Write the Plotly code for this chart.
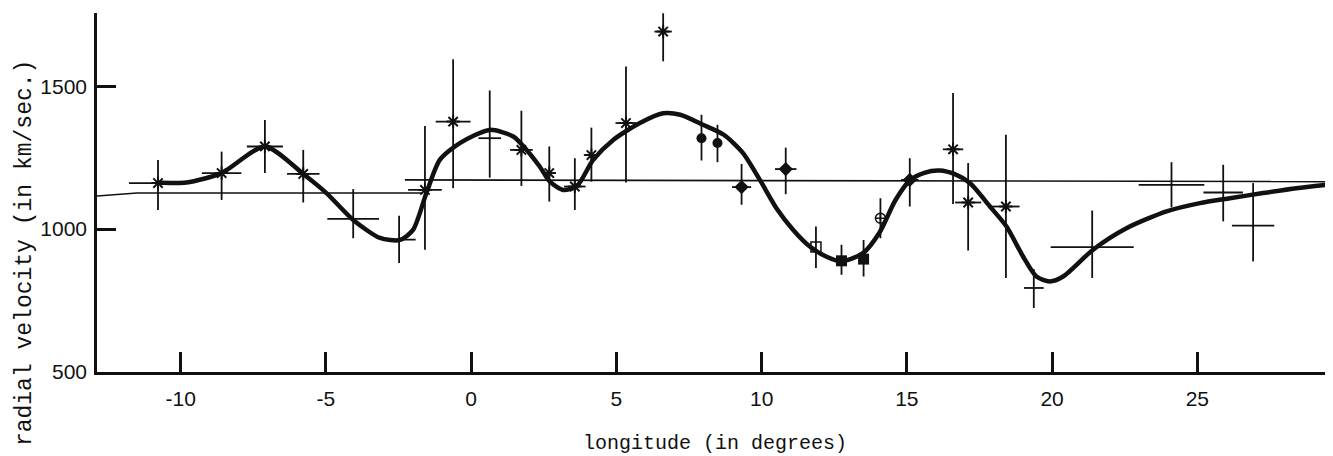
import plotly.graph_objects as go

# ---------------- data ----------------
# smooth fitted curve (traced)
curve_x = [-10.82, -9.8, -8.59, -7.10, -5.78, -4.98, -4.06, -3.14, -2.45, -2.0, -1.54, -1.08,
           -0.39, 0.64, 1.45, 1.91, 2.36, 2.71, 3.17, 3.63, 4.20, 4.89, 5.81, 6.61, 7.2, 7.98,
           8.7, 9.36, 9.94, 10.51, 11.08, 11.66, 12.2, 12.75, 13.49, 14.07, 14.6, 15.10, 15.6,
           16.13, 16.65, 17.17, 17.86, 18.43, 19.0, 19.46, 19.92, 20.38, 21.41, 22.56, 23.94,
           25.09, 26.12, 27.26, 28.41, 29.45]
curve_y = [1163, 1163, 1196, 1289, 1193, 1126, 1032, 969, 962, 997, 1126, 1242,
           1301, 1347, 1324, 1277, 1219, 1166, 1137, 1149, 1242, 1312, 1371, 1405, 1400, 1365,
           1330, 1266, 1172, 1073, 998, 939, 905, 887, 916, 990, 1100, 1170, 1197,
           1205, 1192, 1161, 1079, 1009, 904, 834, 817, 834, 928, 1003, 1062,
           1091, 1108, 1126, 1143, 1155]

# thin reference lines
ref1_x = [-12.88, -11.5, -1.65]
ref1_y = [1116, 1126, 1126]
ref2_x = [-2.28, 29.7]
ref2_y = [1172, 1166]

# points marked with asterisks
star_x = [-10.78, -8.59, -7.10, -5.78, -1.59, -0.62, 1.73, 2.69, 3.57, 4.14, 5.33, 6.61, 16.59, 17.11, 18.41]
star_y = [1161, 1196, 1289, 1193, 1137, 1376, 1277, 1196, 1149, 1259, 1371, 1691, 1279, 1093, 1079]
star_up = [81, 75, 93, 84, 224, 218, 137, 93, 99, 96, 198, 64, 197, 138, 251]
star_dn = [94, 94, 93, 100, 209, 233, 126, 100, 82, 93, 208, 104, 191, 168, 250]
star_ex = [1.0, 0.68, 0.62, 0.56, 0.58, 0.6, 0.39, 0.22, 0.37, 0.26, 0.36, 0.3, 0.35, 0.45, 0.47]

# plain crosses
cross_x = [-4.06, -2.48, 0.64, 19.37, 21.38, 24.11, 25.89, 26.92]
cross_y = [1036, 963, 1318, 794, 937, 1155, 1128, 1012]
cross_up = [104, 84, 167, 66, 128, 79, 97, 149]
cross_dn = [68, 82, 138, 70, 108, 79, 101, 125]
cross_ex = [0.89, 0.57, 0.39, 0.34, 1.43, 1.13, 0.68, 0.73]

# filled circles
dot_x = [7.93, 8.48]
dot_y = [1318, 1301]
dot_up = [82, 64]
dot_dn = [78, 67]

# filled diamonds
dia_x = [9.31, 10.83, 15.10]
dia_y = [1147, 1210, 1172]
dia_up = [81, 75, 76]
dia_dn = [62, 88, 93]
dia_ex = [0.33, 0.37, 0.3]

# open square
osq_x = [11.87]
osq_y = [937]
osq_up = [72]
osq_dn = [73]

# filled squares
fsq_x = [12.75, 13.51]
fsq_y = [889, 895]
fsq_up = [56, 67]
fsq_dn = [49, 61]

# circle with cross
cc_x = [14.09]
cc_y = [1038]
cc_up = [70]
cc_dn = [70]

x_ticks = [-10, -5, 0, 5, 10, 15, 20, 25]
y_ticks = [500, 1000, 1500]

# ---------------- figure ----------------
INK = "#111111"
fig = go.Figure()

fig.add_trace(go.Scatter(x=ref1_x, y=ref1_y, mode="lines", line=dict(color=INK, width=1.6)))
fig.add_trace(go.Scatter(x=ref2_x, y=ref2_y, mode="lines", line=dict(color=INK, width=1.6)))
fig.add_trace(go.Scatter(x=curve_x, y=curve_y, mode="lines",
                         line=dict(color=INK, width=4.5, shape="spline", smoothing=0.7)))


def eb(up, dn, ex=None):
    d = dict(
        error_y=dict(type="data", symmetric=False, array=up, arrayminus=dn,
                     color=INK, thickness=1.8, width=0),
    )
    if ex is not None:
        d["error_x"] = dict(type="data", array=ex, color=INK, thickness=1.8, width=0)
    return d


fig.add_trace(go.Scatter(x=star_x, y=star_y, mode="markers",
                         marker=dict(symbol="asterisk-open", size=11, color=INK,
                                     line=dict(color=INK, width=2)),
                         **eb(star_up, star_dn, star_ex)))
fig.add_trace(go.Scatter(x=cross_x, y=cross_y, mode="markers",
                         marker=dict(size=2, color=INK),
                         **eb(cross_up, cross_dn, cross_ex)))
fig.add_trace(go.Scatter(x=dot_x, y=dot_y, mode="markers",
                         marker=dict(symbol="circle", size=10, color=INK),
                         **eb(dot_up, dot_dn)))
fig.add_trace(go.Scatter(x=dia_x, y=dia_y, mode="markers",
                         marker=dict(symbol="diamond", size=11, color=INK),
                         **eb(dia_up, dia_dn, dia_ex)))
fig.add_trace(go.Scatter(x=osq_x, y=osq_y, mode="markers",
                         marker=dict(symbol="square-open", size=10, color=INK,
                                     line=dict(color=INK, width=1.5)),
                         **eb(osq_up, osq_dn)))
fig.add_trace(go.Scatter(x=fsq_x, y=fsq_y, mode="markers",
                         marker=dict(symbol="square", size=11, color=INK),
                         **eb(fsq_up, fsq_dn)))
fig.add_trace(go.Scatter(x=cc_x, y=cc_y, mode="markers",
                         marker=dict(symbol="circle-cross-open", size=10, color=INK,
                                     line=dict(color=INK, width=1.5)),
                         **eb(cc_up, cc_dn)))

tick_font = dict(family="Liberation Sans, Arial, sans-serif", size=21, color=INK)
title_font_family = "Liberation Mono, Courier New, monospace"

# the page body adds an 8 px margin, so the figure is sized/offset to compensate
fig.update_layout(
    width=1325, height=448,
    margin=dict(l=89, r=0, t=5, b=84, autoexpand=False),
    paper_bgcolor="white", plot_bgcolor="white",
    showlegend=False,
    xaxis=dict(range=[-12.88, 29.67], tickvals=x_ticks, ticktext=[str(v) for v in x_ticks],
               ticks="inside", ticklen=20, tickwidth=2.5, tickcolor=INK,
               showline=True, linecolor=INK, linewidth=2.5, showgrid=False, zeroline=False,
               tickfont=tick_font, ticklabelstandoff=6),
    yaxis=dict(range=[500, 1756], tickvals=y_ticks, ticktext=[str(v) for v in y_ticks],
               ticks="inside", ticklen=19, tickwidth=2.5, tickcolor=INK,
               showline=True, linecolor=INK, linewidth=2.5, showgrid=False, zeroline=False,
               tickfont=tick_font, ticklabelstandoff=3),
    annotations=[
        dict(text="radial velocity (in km/sec.)", xref="paper", yref="paper",
             x=-0.0583, y=0.331, xanchor="center", yanchor="middle",
             textangle=-90, showarrow=False,
             font=dict(family=title_font_family, size=23, color=INK)),
        dict(text="longitude (in degrees)", xref="paper", yref="paper",
             x=0.5, y=-0.198, xanchor="center", yanchor="middle", showarrow=False,
             font=dict(family=title_font_family, size=20, color=INK)),
    ],
)

fig.write_html("out.html")
